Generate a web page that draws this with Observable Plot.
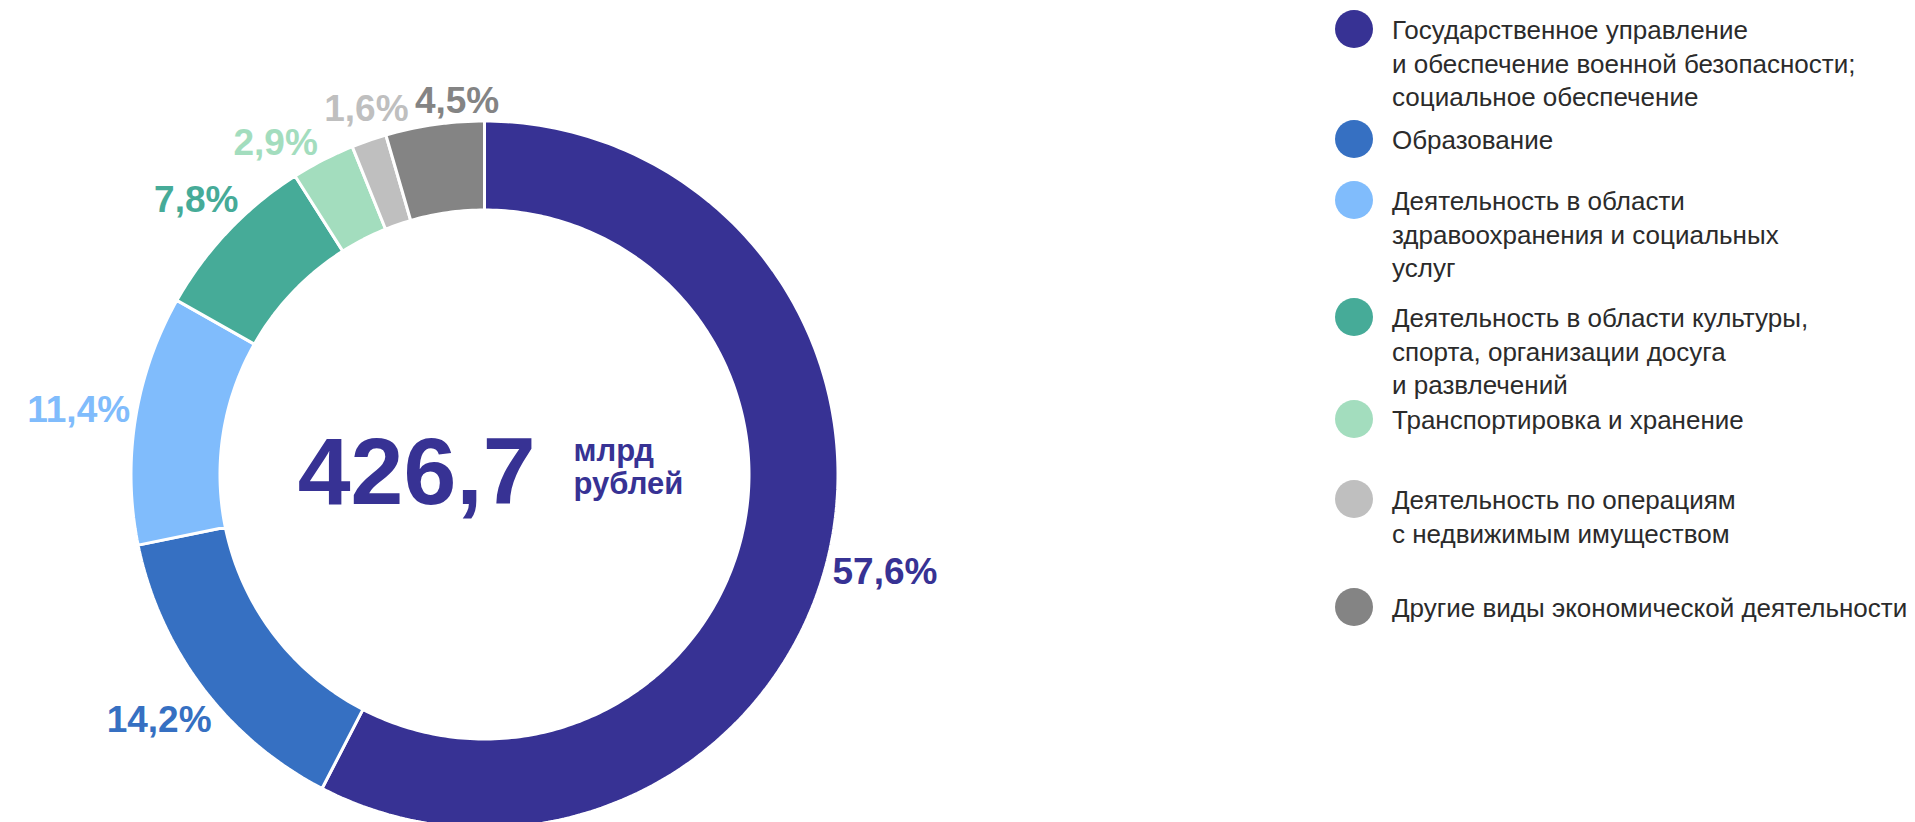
<!DOCTYPE html>
<html><head><meta charset="utf-8">
<script src="https://cdn.jsdelivr.net/npm/d3@7"></script>
<script src="https://cdn.jsdelivr.net/npm/@observablehq/plot@0.6"></script>
<style>
html,body{margin:0;padding:0;background:#fff;overflow:hidden;}
#wrap{position:relative;width:1915px;height:822px;font-family:"Liberation Sans",Arial,sans-serif;}
#chart{position:absolute;left:0;top:0;}
#legend{position:absolute;left:0;top:0;}
.dot{position:absolute;width:38px;height:38px;border-radius:50%;}
.lab{position:absolute;font-size:26px;line-height:33.5px;color:#2b2b2b;white-space:nowrap;}
</style></head><body><div id="wrap"><div id="chart"></div><div id="legend"></div></div>
<script>
// ---- data ----
const categories = [
  "Государственное управление и обеспечение военной безопасности; социальное обеспечение",
  "Образование",
  "Деятельность в области здравоохранения и социальных услуг",
  "Деятельность в области культуры, спорта, организации досуга и развлечений",
  "Транспортировка и хранение",
  "Деятельность по операциям с недвижимым имуществом",
  "Другие виды экономической деятельности"
];
const shares = [57.6, 14.2, 11.4, 7.8, 2.9, 1.6, 4.5];
const shareLabels = ["57,6%", "14,2%", "11,4%", "7,8%", "2,9%", "1,6%", "4,5%"];
const colors = ["#373294", "#3670C2", "#80BCFC", "#46AB98", "#A3DDBE", "#BFBFBF", "#848484"];
const totalValue = "426,7";
const totalUnit = "млрд\nрублей";
const legendLines = [
  ["Государственное управление", "и обеспечение военной безопасности;", "социальное обеспечение"],
  ["Образование"],
  ["Деятельность в области", "здравоохранения и социальных", "услуг"],
  ["Деятельность в области культуры,", "спорта, организации досуга", "и развлечений"],
  ["Транспортировка и хранение"],
  ["Деятельность по операциям", "с недвижимым имуществом"],
  ["Другие виды экономической деятельности"]
];

// ---- layout ----
const W = 1330, H = 822, CX = 484, CY = 474, R_OUT = 352, R_IN = 266;
const LABEL_FONT = 37, LABEL_GAP = 6;
const legendDotY = [29, 139, 200, 317, 419, 499, 607];
const legendDotX = 1354, legendTextX = 1392;

const ctx = document.createElement("canvas").getContext("2d");
ctx.font = `bold ${LABEL_FONT}px "Liberation Sans"`;

const slicePts = [];
const labelInfo = [];
let acc = 0;
const rO = (R_OUT + 1.5) / R_OUT, rI = (R_IN - 1.5) / R_OUT;
shares.forEach((s, i) => {
  const cat = categories[i];
  const a0 = acc / 100 * 2 * Math.PI, a1 = (acc + s) / 100 * 2 * Math.PI;
  acc += s;
  const n = Math.max(6, Math.ceil(s * 4));
  for (let k = 0; k <= n; k++) { const a = a0 + (a1 - a0) * k / n; slicePts.push({cat, x: rO * Math.sin(a), y: rO * Math.cos(a)}); }
  for (let k = n; k >= 0; k--) { const a = a0 + (a1 - a0) * k / n; slicePts.push({cat, x: rI * Math.sin(a), y: rI * Math.cos(a)}); }
  labelInfo.push({cat, label: shareLabels[i], a: (a0 + a1) / 2, w: ctx.measureText(shareLabels[i]).width, h: LABEL_FONT * 0.72});
});

// place a label just outside the ring along its angle (pixel offsets from centre)
function place(l) {
  const r = R_OUT + LABEL_GAP + (l.w / 2) * Math.abs(Math.sin(l.a)) + (l.h / 2) * Math.abs(Math.cos(l.a));
  return {px: r * Math.sin(l.a), py: -r * Math.cos(l.a), r};
}
// simple relaxation so neighbouring labels do not overlap
const order = labelInfo.slice().sort((p, q) => p.a - q.a);
for (let it = 0; it < 2000; it++) {
  let moved = false;
  for (let k = 0; k < order.length - 1; k++) {
    const A = order[k], B = order[k + 1];
    const pa = place(A), pb = place(B);
    const ox = (A.w + B.w) / 2 + 6 - Math.abs(pa.px - pb.px);
    const oy = (A.h + B.h) / 2 + 8 - Math.abs(pa.py - pb.py);
    if (ox > 0 && oy > 0) { A.a -= 0.001; B.a += 0.001; moved = true; }
  }
  if (!moved) break;
}
const labelPts = labelInfo.map(l => { const p = place(l); return {cat: l.cat, label: l.label, x: p.px / R_OUT, y: -p.py / R_OUT}; });

const chart = Plot.plot({
  width: W, height: H, margin: 0,
  style: {fontFamily: '"Liberation Sans", Arial, sans-serif', background: "white"},
  x: {domain: [-CX / R_OUT, (W - CX) / R_OUT], range: [0, W], axis: null},
  y: {domain: [-(H - CY) / R_OUT, CY / R_OUT], range: [H, 0], axis: null},
  color: {domain: categories, range: colors},
  marks: [
    Plot.line(slicePts, {x: "x", y: "y", z: "cat", fill: "cat", stroke: "white", strokeWidth: 3, strokeLinejoin: "miter", curve: "linear-closed"}),
    Plot.text(labelPts, {x: "x", y: "y", text: "label", fill: "cat", fontSize: LABEL_FONT, fontWeight: "bold", textAnchor: "middle", lineAnchor: "middle"}),
    Plot.text([{x: 0, y: 0}], {x: "x", y: "y", text: () => totalValue, fill: colors[0], fontSize: 95, fontWeight: "bold", textAnchor: "end", lineAnchor: "bottom", dx: 51, dy: 29}),
    Plot.text([{x: 0, y: 0}], {x: "x", y: "y", text: () => totalUnit, fill: colors[0], fontSize: 31, fontWeight: "bold", textAnchor: "start", lineAnchor: "bottom", lineHeight: 1.065, dx: 89, dy: 19})
  ]
});
document.getElementById("chart").appendChild(chart);

const leg = document.getElementById("legend");
legendLines.forEach((lines, i) => {
  const d = document.createElement("div");
  d.className = "dot";
  d.style.left = (legendDotX - 19) + "px";
  d.style.top = (legendDotY[i] - 19) + "px";
  d.style.background = colors[i];
  leg.appendChild(d);
  const t = document.createElement("div");
  t.className = "lab";
  t.style.left = legendTextX + "px";
  t.style.top = (legendDotY[i] - 15) + "px";
  t.innerHTML = lines.join("<br>");
  leg.appendChild(t);
});
</script></body></html>
